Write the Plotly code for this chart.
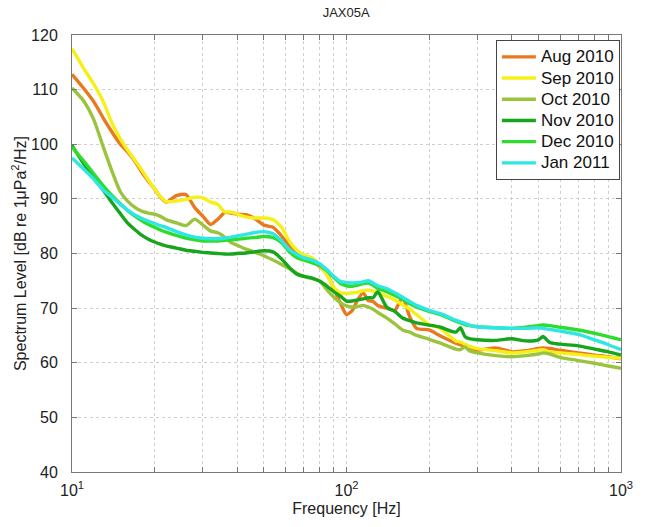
import plotly.graph_objects as go

freq = [10, 11, 12, 13, 14, 15, 16, 17, 18, 19, 20, 21, 22, 24, 26, 28, 30, 32, 34, 36, 38, 40, 43, 46, 50,
        54, 58, 62, 66, 70, 75, 80, 85, 90, 95, 100, 105, 110, 115, 120, 125, 130, 140, 150, 160, 170, 180,
        200, 220, 250, 260, 270, 280, 300, 350, 400, 450, 500, 520, 550, 600, 700, 800, 900, 1000]

aug_2010 = [112.8, 110.3, 107.8, 104.8, 102.2, 100.0, 98.5, 96.8, 94.8, 93.2, 91.8, 90.3, 89.4, 90.6, 90.8, 88.4,
            86.8, 85.3, 86.3, 87.5, 87.4, 87.2, 87.1, 86.5, 85.2, 84.8, 83.2, 81.4, 80.2, 79.2, 78.6, 77.6, 76.2,
            73.6, 70.9, 68.8, 69.6, 71.6, 72.8, 71.4, 71.2, 70.5, 70.0, 69.6, 72.0, 68.4, 66.3, 66.0, 64.9, 63.6,
            63.3, 63.0, 62.6, 62.3, 62.7, 62.0, 62.2, 62.6, 62.7, 62.6, 62.3, 61.8, 61.4, 61.1, 60.7]

sep_2010 = [117.5, 114.0, 111.0, 107.8, 103.8, 101.0, 98.8, 97.0, 95.2, 93.4, 91.8, 90.4, 89.5, 89.6, 89.9, 90.3,
            90.2, 89.4, 89.0, 87.6, 87.6, 87.2, 86.7, 86.5, 86.5, 86.2, 84.8, 82.2, 80.6, 79.7, 79.2, 77.8, 76.0,
            73.8, 72.8, 72.7, 72.8, 72.9, 73.2, 73.3, 73.1, 72.8, 72.2, 71.5, 70.6, 69.8, 68.8, 67.0, 66.3, 64.0,
            63.8, 63.4, 63.0, 62.6, 62.2, 61.8, 62.0, 62.3, 62.4, 62.0, 61.8, 61.5, 61.2, 61.0, 60.8]

oct_2010 = [110.3, 108.0, 104.5, 99.5, 95.0, 91.3, 89.5, 88.4, 87.7, 87.4, 87.2, 86.8, 86.2, 85.6, 85.1, 86.3,
            85.2, 84.1, 83.8, 83.0, 82.0, 81.5, 80.8, 80.3, 79.6, 78.8, 78.0, 77.2, 76.4, 75.8, 75.4, 74.9, 73.3,
            72.0, 71.0, 70.4, 70.2, 70.3, 70.5, 70.2, 69.8, 69.2, 68.2, 67.1, 66.0, 65.6, 65.0, 64.3, 63.6, 62.5,
            62.4, 62.9, 62.2, 61.8, 61.3, 61.1, 61.3, 61.6, 61.8, 61.6, 61.0, 60.4, 59.9, 59.4, 59.0]

nov_2010 = [99.8, 96.5, 93.8, 91.6, 89.3, 87.3, 85.5, 84.3, 83.3, 82.6, 82.1, 81.7, 81.4, 81.0, 80.6, 80.4,
            80.2, 80.1, 80.0, 79.9, 79.9, 80.0, 80.1, 80.3, 80.5, 80.3, 79.0, 77.4, 76.2, 75.8, 75.5, 74.9, 74.0,
            73.0, 72.2, 71.3, 71.3, 71.5, 71.7, 71.9, 71.9, 73.0, 70.2, 69.4, 68.2, 67.7, 67.3, 66.9, 66.5, 65.6,
            66.4, 64.8, 64.4, 64.2, 64.1, 64.4, 64.0, 64.2, 64.8, 63.7, 63.4, 63.1, 62.5, 62.0, 61.4]

dec_2010 = [99.5, 97.0, 94.6, 92.4, 90.6, 89.1, 87.8, 86.8, 86.0, 85.3, 84.8, 84.3, 83.9, 83.3, 82.8, 82.5,
            82.3, 82.3, 82.3, 82.4, 82.5, 82.6, 82.8, 82.9, 83.1, 82.9, 82.0, 80.3, 79.2, 78.8, 78.3, 77.8, 76.8,
            75.6, 74.5, 74.1, 74.0, 74.2, 74.5, 74.6, 74.2, 73.6, 73.0, 72.3, 71.6, 70.8, 70.2, 69.4, 68.8, 67.6,
            67.3, 67.0, 66.8, 66.6, 66.4, 66.3, 66.5, 66.8, 66.9, 66.8, 66.5, 66.0, 65.4, 64.8, 64.2]

jan_2011 = [97.5, 95.5, 93.6, 91.6, 90.3, 89.0, 87.9, 87.0, 86.4, 85.9, 85.5, 85.1, 84.8, 84.0, 83.4, 83.0,
            82.8, 82.7, 82.7, 82.8, 83.0, 83.2, 83.5, 83.8, 84.0, 83.6, 82.3, 80.7, 79.8, 79.2, 78.8, 78.1, 77.0,
            75.8, 74.9, 74.7, 74.6, 74.7, 74.8, 75.0, 74.6, 74.1, 73.6, 72.8, 72.0, 71.2, 70.5, 69.6, 69.0, 67.8,
            67.5, 67.2, 66.9, 66.6, 66.4, 66.3, 66.3, 66.4, 66.3, 66.1, 65.8, 65.2, 64.2, 63.3, 62.4]

series_names = ["Aug 2010", "Sep 2010", "Oct 2010", "Nov 2010", "Dec 2010", "Jan 2011"]
series_values = [aug_2010, sep_2010, oct_2010, nov_2010, dec_2010, jan_2011]
series_colors = ["#E8791E", "#F5F01A", "#9BC43E", "#17A51E", "#2EDC2E", "#2EE6E6"]

x_tick_vals = [10, 20, 30, 40, 50, 60, 70, 80, 90, 100, 200, 300, 400, 500, 600, 700, 800, 900, 1000]
x_tick_text = ["10<sup>1</sup>", "", "", "", "", "", "", "", "", "10<sup>2</sup>",
               "", "", "", "", "", "", "", "", "10<sup>3</sup>"]
y_tick_vals = [40, 50, 60, 70, 80, 90, 100, 110, 120]

fig = go.Figure()
for name, vals, col in zip(series_names, series_values, series_colors):
    fig.add_trace(go.Scatter(x=freq, y=vals, mode="lines",
                             name="<span style='font-size:17px'>" + name + "</span>",
                             line=dict(color=col, width=3.4, shape="spline", smoothing=0.6)))

font = "Liberation Sans, Arial, sans-serif"
fig.update_layout(
    width=647, height=527,
    paper_bgcolor="white", plot_bgcolor="white",
    margin=dict(l=72, r=26, t=35, b=55, autoexpand=False),
    title=dict(text="JAX05A", x=0.535, xanchor="center", y=0.977, yanchor="middle",
               font=dict(family=font, size=13, color="#222")),
    font=dict(family=font, size=14, color="#222"),
    legend=dict(x=0.998, xanchor="right", y=0.988, yanchor="top",
                bgcolor="white", bordercolor="#444", borderwidth=1,
                font=dict(family=font, size=14, color="#111"),
                itemwidth=34, tracegroupgap=0),
    showlegend=True,
)
fig.update_xaxes(type="log", range=[1, 3], tickvals=x_tick_vals, ticktext=x_tick_text,
                 automargin=False,
                 showgrid=True, gridcolor="#cfcfcf", griddash="dot", gridwidth=1,
                 showline=True, linecolor="#777", linewidth=1, mirror="ticks",
                 ticks="inside", ticklen=5, tickcolor="#777", ticklabelstandoff=4,
                 title=dict(text="Frequency [Hz]", font=dict(family=font, size=16), standoff=4),
                 tickfont=dict(family=font, size=16), zeroline=False)
fig.update_yaxes(range=[40, 120], tickvals=y_tick_vals,
                 automargin=False,
                 showgrid=True, gridcolor="#cfcfcf", griddash="dot", gridwidth=1,
                 showline=True, linecolor="#777", linewidth=1, mirror="ticks",
                 ticks="inside", ticklen=5, tickcolor="#777", ticklabelstandoff=10,
                 title=dict(text="Spectrum Level [dB re 1\u03bcPa<sup>2</sup>/Hz]",
                            font=dict(family=font, size=16), standoff=0),
                 tickfont=dict(family=font, size=16), zeroline=False)

fig.write_html("out.html", config={"displayModeBar": False},
               post_script="document.body.style.margin='0px';")
